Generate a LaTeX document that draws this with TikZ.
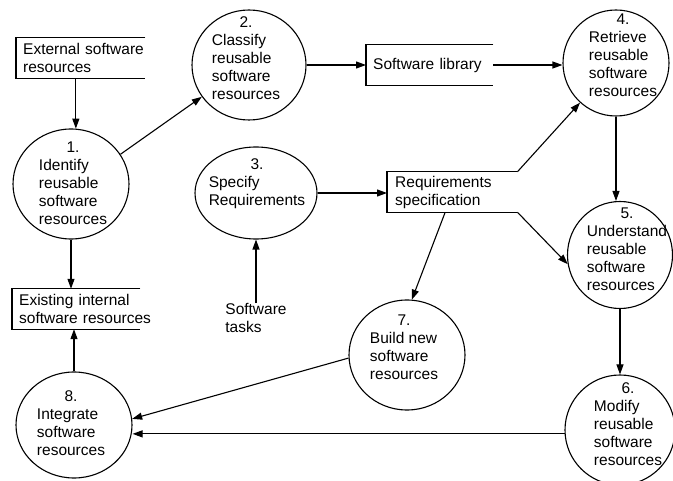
\documentclass[tikz,border=0pt]{standalone}
\usepackage{fontspec}
\setmainfont{Liberation Sans}
\usetikzlibrary{shapes.geometric,arrows.meta}
\newcommand\proctext[2]{\begin{tabular}{@{}l@{}}\multicolumn{1}{@{}c@{}}{#1}\\#2\end{tabular}}
\begin{document}
\begin{tikzpicture}[x=1pt,y=-1pt,
  every node/.style={font=\fontsize{15.5}{18}\selectfont},
  proc/.style={ellipse, draw, line width=1.1pt, inner sep=0pt},
  ptext/.style={inner sep=0pt, align=left},
  store/.style={anchor=west, minimum height=40pt, inner xsep=7pt, inner ysep=0pt, align=left},
  outline/.style={line width=1.1pt},
  flow/.style={line width=1.1pt, -{Triangle[length=10pt,width=7pt]}}]
\useasboundingbox (0,0) rectangle (673,481);

% processes (circles)
\node[proc, minimum width=116pt, minimum height=110pt] (c1) at (71,184) {};
\node[proc, minimum width=114pt, minimum height=110pt] (c2) at (249,65) {};
\node[proc, minimum width=122pt, minimum height=92pt]  (c3) at (256,193) {};
\node[proc, minimum width=106pt, minimum height=106pt] (c4) at (616,63) {};
\node[proc, minimum width=105pt, minimum height=107pt] (c5) at (620,255) {};
\node[proc, minimum width=110pt, minimum height=110pt] (c6) at (620,430) {};
\node[proc, minimum width=116pt, minimum height=110pt] (c7) at (407,355) {};
\node[proc, minimum width=116pt, minimum height=106pt] (c8) at (74,425) {};

% process texts
\node[ptext] (t1) at (73,185) {\proctext{1.}{Identify\\reusable\\software\\resources}};
\node[ptext] (t2) at (246,60) {\proctext{2.}{Classify\\reusable\\software\\resources}};
\node[ptext] (t3) at (257,184) {\proctext{3.}{Specify\\Requirements}};
\node[ptext] (t4) at (623,57) {\proctext{4.}{Retrieve\\reusable\\software\\resources}};
\node[ptext] (t5) at (627,251) {\proctext{5.}{Understand\\reusable\\software\\resources}};
\node[ptext] (t6) at (628,426) {\proctext{6.}{Modify\\reusable\\software\\resources}};
\node[ptext] (t7) at (404,349) {\proctext{7.}{Build new\\software\\resources}};
\node[ptext] (t8) at (71,425) {\proctext{8.}{Integrate\\software\\resources}};

% data stores
\node[store, text width=115pt, minimum width=129pt] (ext) at (16,58) {\mbox{External software}\\resources};
\node[store, text width=113pt, minimum width=127pt, minimum height=41pt] (lib) at (366,65) {\mbox{Software library}};
\node[store, text width=114pt, minimum width=130pt, inner xsep=8pt] (req) at (387,192) {Requirements\\specification};
\node[store, text width=114pt, minimum width=128pt] (exist) at (12,309) {\mbox{Existing internal}\\\mbox{software resources}};
\foreach \s in {ext,lib,req,exist}
  \draw[outline] (\s.north east) -- (\s.north west) -- (\s.south west) -- (\s.south east);

% external entity
\node[ptext] (tasks) at (256,318) {Software\\tasks};

% flows
\draw[flow] (c1.85 |- ext.south) -- (c1.85);
\draw[flow] (c1.31) -- (c2.214);
\draw[flow] (c2.east) -- (c2.east -| lib.west);
\draw[flow] (lib.east) -- (lib.east -| c4.west);
\draw[flow] (c3.east) -- (c3.east -| req.west);
\draw[flow] (req.north east) -- (c4);
\draw[flow] (req.south east) -- (c5.190);
\draw[flow] ([xshift=-7pt]req.south) -- (c7.85);
\draw[flow] (c3.south |- tasks.north) -- (c3.south);
\draw[flow] (c1.south) -- (c1.south |- exist.north);
\draw[flow] (c8.north) -- (c8.north |- exist.south);
\draw[flow] (c4.south) -- (c4.south |- c5.north);
\draw[flow] (c5.south) -- (c5.south |- c6.north);
\draw[flow] (c7.183) -- (c8.6);
\draw[flow] (c6.184) -- (c6.184 -| c8.east);
\end{tikzpicture}
\end{document}
